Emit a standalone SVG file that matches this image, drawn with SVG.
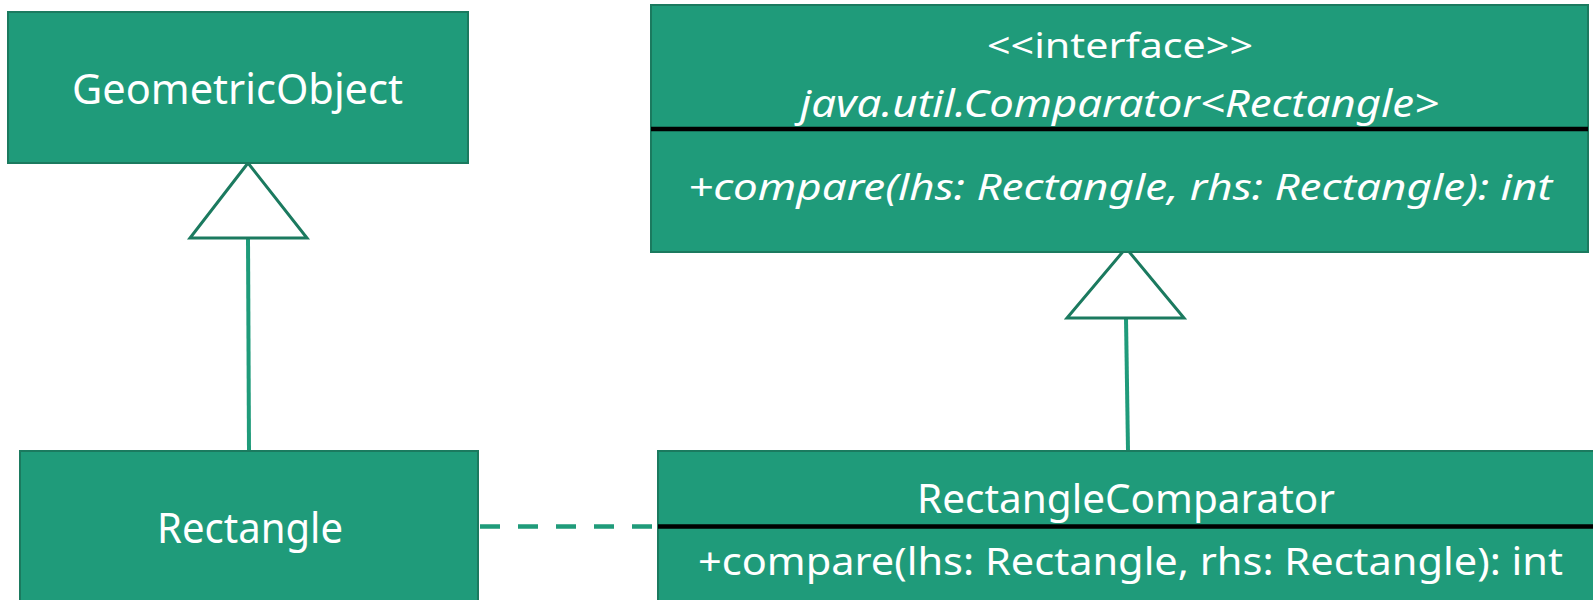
<svg xmlns="http://www.w3.org/2000/svg" width="1593" height="600" viewBox="0 0 1593 600">
<style>
.box{fill:#1F9B7A;stroke:#1B7A5F;stroke-width:2}
.t{fill:#ffffff;font-family:"Noto Sans","Open Sans","Liberation Sans",sans-serif}
.i{font-style:italic}
.div{stroke:#000000;stroke-width:4.5}
.tri{fill:#ffffff;stroke:#1B7A5F;stroke-width:3}
.ln{stroke:#1F9B7A;stroke-width:4;fill:none}
.dash{stroke:#1F9B7A;stroke-width:4.5;fill:none;stroke-dasharray:20 18}
</style>
<rect width="1593" height="600" fill="#ffffff"/>
<g id="connectors">
<line class="ln" x1="248" y1="238" x2="249" y2="451"/>
<polygon class="tri" points="248,163 190,238 307,238"/>
<line class="ln" x1="1126" y1="318" x2="1128" y2="451"/>
<polygon class="tri" points="1126,248 1067,318 1184,318"/>
<line class="dash" x1="480" y1="526.5" x2="658" y2="526.5"/>
</g>
<g id="GeometricObject">
<rect class="box" x="8" y="12" width="460" height="151"/>
<text class="t" x="72" y="104" font-size="42" textLength="331" lengthAdjust="spacingAndGlyphs">GeometricObject</text>
</g>
<g id="Comparator">
<rect class="box" x="651" y="5" width="937" height="247"/>
<line class="div" x1="651" y1="129" x2="1588" y2="129"/>
<text class="t" x="987" y="58" font-size="34" textLength="266" lengthAdjust="spacingAndGlyphs">&lt;&lt;interface&gt;&gt;</text>
<text class="t i" x="800" y="117" font-size="38" textLength="639" lengthAdjust="spacingAndGlyphs">java.util.Comparator&lt;Rectangle&gt;</text>
<text class="t i" x="688" y="200" font-size="37" textLength="864" lengthAdjust="spacingAndGlyphs">+compare(lhs: Rectangle, rhs: Rectangle): int</text>
</g>
<g id="Rectangle">
<rect class="box" x="20" y="451" width="458" height="160"/>
<text class="t" x="157" y="543" font-size="41" textLength="186" lengthAdjust="spacingAndGlyphs">Rectangle</text>
</g>
<g id="RectangleComparator">
<rect class="box" x="658" y="451" width="945" height="160"/>
<line class="div" x1="658" y1="526.5" x2="1593" y2="526.5"/>
<text class="t" x="917" y="513" font-size="40" textLength="418" lengthAdjust="spacingAndGlyphs">RectangleComparator</text>
<text class="t" x="698" y="575" font-size="38" textLength="865" lengthAdjust="spacingAndGlyphs">+compare(lhs: Rectangle, rhs: Rectangle): int</text>
</g>
</svg>
